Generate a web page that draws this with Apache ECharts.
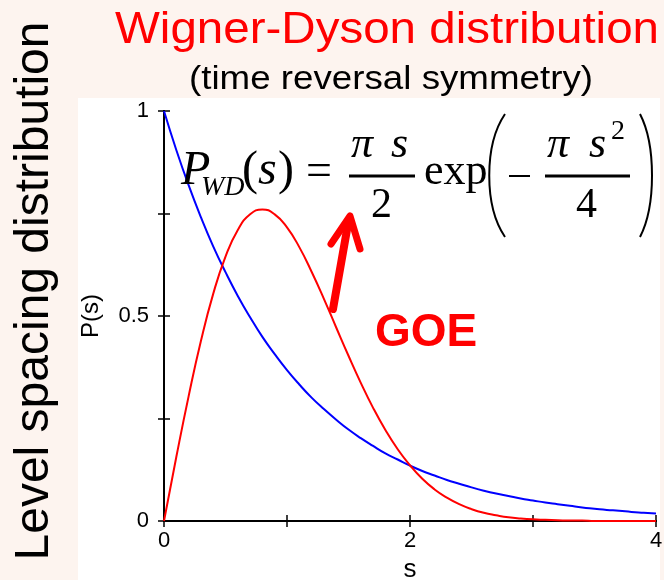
<!DOCTYPE html>
<html>
<head>
<meta charset="utf-8">
<script src="https://cdn.jsdelivr.net/npm/echarts@6/dist/echarts.min.js"></script>
<style>
  html, body { margin: 0; padding: 0; background: #fdf4ef; }
  #chart { width: 664px; height: 580px; }
</style>
</head>
<body>
<div id="chart"></div>
<script>
// Level spacing s, sampled every 0.1
const sValues = [
  0.0, 0.1, 0.2, 0.3, 0.4, 0.5, 0.6, 0.7, 0.8, 0.9,
  1.0, 1.1, 1.2, 1.3, 1.4, 1.5, 1.6, 1.7, 1.8, 1.9,
  2.0, 2.1, 2.2, 2.3, 2.4, 2.5, 2.6, 2.7, 2.8, 2.9,
  3.0, 3.1, 3.2, 3.3, 3.4, 3.5, 3.6, 3.7, 3.8, 3.9, 4.0
];

// Poisson (uncorrelated levels), blue curve
const poissonValues = [
  1.000, 0.905, 0.819, 0.741, 0.670, 0.607, 0.549, 0.497, 0.449, 0.407,
  0.368, 0.333, 0.301, 0.273, 0.247, 0.223, 0.202, 0.183, 0.165, 0.150,
  0.135, 0.122, 0.111, 0.100, 0.091, 0.082, 0.074, 0.067, 0.061, 0.055,
  0.050, 0.045, 0.041, 0.037, 0.033, 0.030, 0.027, 0.025, 0.022, 0.020, 0.018
];

// Wigner-Dyson (GOE), red curve
const goeValues = [
  0.000, 0.156, 0.304, 0.439, 0.554, 0.645, 0.710, 0.748, 0.760, 0.748,
  0.716, 0.668, 0.608, 0.542, 0.472, 0.403, 0.337, 0.276, 0.222, 0.175,
  0.136, 0.103, 0.077, 0.057, 0.041, 0.029, 0.020, 0.014, 0.009, 0.006,
  0.004, 0.003, 0.002, 0.001, 0.001, 0.000, 0.000, 0.000, 0.000, 0.000, 0.000
];

// Tick labels shown on each axis
const xTickLabels = ['0', '2', '4'];
const yTickLabels = ['0', '0.5', '1'];

const pairs = (ys) => sValues.map((s, i) => [s, ys[i]]);

const chart = echarts.init(document.getElementById('chart'), null, { renderer: 'canvas' });

const RED = '#ff0000';
const SERIF = '"Liberation Serif", "Times New Roman", serif';
const SANS = '"Liberation Sans", Arial, Helvetica, sans-serif';

const tickStyle = { show: true, inside: true, length: 6, lineStyle: { color: '#000', width: 1.5 } };
const lineStyle = { show: true, lineStyle: { color: '#000', width: 2 } };

function serifText(x, y, text, size, italic, extra) {
  return Object.assign({
    type: 'text', x: x, y: y, z: 20,
    style: {
      text: text, fill: '#000',
      font: (italic ? 'italic ' : '') + size + 'px ' + SERIF,
      align: 'left', verticalAlign: 'middle'
    }
  }, extra || {});
}

function hLine(x1, x2, y, w, color) {
  return {
    type: 'line', z: 20,
    shape: { x1: x1, y1: y, x2: x2, y2: y },
    style: { stroke: color || '#000', lineWidth: w }
  };
}

const option = {
  backgroundColor: '#fdf4ef',
  animation: false,
  grid: { left: 164, right: 8, top: 111, bottom: 59, containLabel: false, outerBoundsMode: 'none' },
  xAxis: [
    {
      type: 'value', position: 'bottom', min: 0, max: 4, interval: 1,
      axisLine: lineStyle, axisTick: tickStyle, splitLine: { show: false },
      axisLabel: {
        color: '#000', fontFamily: SANS, fontSize: 22, margin: 9,
        formatter: (v) => xTickLabels.includes(String(v)) ? String(v) : ''
      },
      name: 's', nameLocation: 'middle', nameGap: 33,
      nameTextStyle: { color: '#000', fontFamily: SANS, fontSize: 26 }
    },
    {
      type: 'value', position: 'top', min: 0, max: 4, interval: 1,
      axisLine: lineStyle, axisTick: tickStyle, axisLabel: { show: false },
      splitLine: { show: false }
    }
  ],
  yAxis: [
    {
      type: 'value', position: 'left', min: 0, max: 1, interval: 0.25,
      axisLine: lineStyle, axisTick: tickStyle, splitLine: { show: false },
      axisLabel: {
        color: '#000', fontFamily: SANS, fontSize: 22, margin: 15,
        formatter: (v) => yTickLabels.includes(String(v)) ? String(v) : ''
      },
      name: 'P(s)', nameLocation: 'middle', nameGap: 61,
      nameTextStyle: { color: '#000', fontFamily: SANS, fontSize: 24 }
    },
    {
      type: 'value', position: 'right', min: 0, max: 1, interval: 0.25,
      axisLine: lineStyle, axisTick: tickStyle, axisLabel: { show: false },
      splitLine: { show: false }
    }
  ],
  series: [
    {
      name: 'Poisson', type: 'line', data: pairs(poissonValues),
      xAxisIndex: 0, yAxisIndex: 0, smooth: true, showSymbol: false,
      lineStyle: { color: '#0000ff', width: 2 }, z: 3
    },
    {
      name: 'GOE', type: 'line', data: pairs(goeValues),
      xAxisIndex: 0, yAxisIndex: 0, smooth: true, showSymbol: false,
      lineStyle: { color: RED, width: 2 }, z: 4
    }
  ],
  graphic: [
    // white panel behind the plot
    {
      type: 'rect', z: -10, silent: true,
      shape: { x: 78, y: 98, width: 582, height: 482 },
      style: { fill: '#ffffff' }
    },
    // headline and subheading
    {
      type: 'text', x: 387, y: 31, scaleX: 1.08, z: 20,
      style: {
        text: 'Wigner-Dyson distribution', fill: RED,
        font: '44px ' + SANS, align: 'center', verticalAlign: 'middle'
      }
    },
    {
      type: 'text', x: 391, y: 80, scaleX: 1.08, z: 20,
      style: {
        text: '(time reversal symmetry)', fill: '#000',
        font: '34px ' + SANS, align: 'center', verticalAlign: 'middle'
      }
    },
    // vertical side caption
    {
      type: 'text', x: 35, y: 291, rotation: Math.PI / 2, z: 20,
      style: {
        text: 'Level spacing distribution', fill: '#000',
        font: '48px ' + SANS, align: 'center', verticalAlign: 'middle'
      }
    },
    // formula: P_WD(s) = (pi s / 2) exp( - pi s^2 / 4 )
    serifText(181, 171, 'P', 48, true),
    serifText(201, 188, 'WD', 28, true),
    serifText(242, 171, '(', 48, false),
    serifText(258, 171, 's', 48, true),
    serifText(278, 171, ')', 48, false),
    serifText(306, 173, '=', 46, false),
    serifText(351, 145, 'π', 44, true),
    serifText(391, 145, 's', 44, true),
    hLine(349, 415, 176, 3),
    serifText(371, 206, '2', 42, false),
    serifText(424, 172, 'exp', 44, false),
    {
      type: 'bezierCurve', z: 20,
      shape: { x1: 505, y1: 114, cpx1: 484, cpy1: 145, cpx2: 484, cpy2: 206, x2: 505, y2: 237 },
      style: { stroke: '#000', lineWidth: 2, fill: null }
    },
    hLine(509, 530, 176, 2),
    hLine(545, 630, 176, 3),
    serifText(547, 145, 'π', 44, true),
    serifText(589, 145, 's', 44, true),
    serifText(611, 132, '2', 28, false),
    serifText(576, 206, '4', 42, false),
    {
      type: 'bezierCurve', z: 20,
      shape: { x1: 640, y1: 114, cpx1: 656, cpy1: 145, cpx2: 656, cpy2: 206, x2: 640, y2: 237 },
      style: { stroke: '#000', lineWidth: 2, fill: null }
    },
    // arrow pointing at the formula
    {
      type: 'line', z: 20,
      shape: { x1: 333, y1: 309, x2: 348, y2: 224 },
      style: { stroke: RED, lineWidth: 8, lineCap: 'round' }
    },
    {
      type: 'polyline', z: 20,
      shape: { points: [[331, 244], [350, 216], [360, 249]] },
      style: { stroke: RED, lineWidth: 7, lineCap: 'round', lineJoin: 'round', fill: null }
    },
    {
      type: 'text', x: 375, y: 333, z: 20,
      style: {
        text: 'GOE', fill: RED,
        font: 'bold 46px ' + SANS, align: 'left', verticalAlign: 'middle'
      }
    }
  ]
};

chart.setOption(option);
</script>
</body>
</html>
